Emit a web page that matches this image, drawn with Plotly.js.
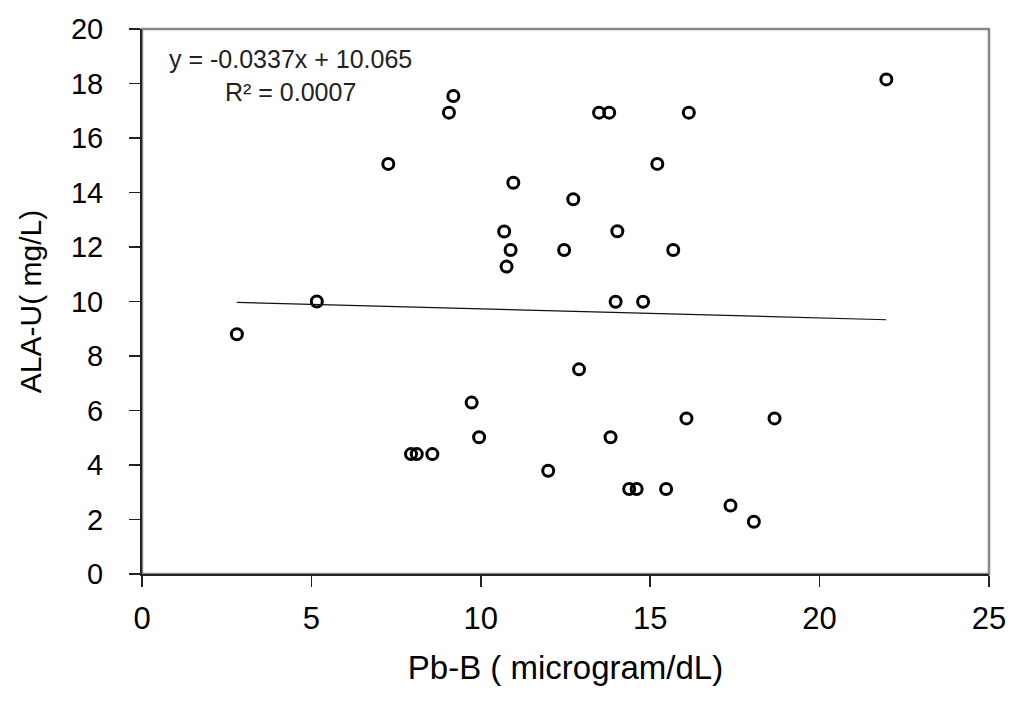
<!DOCTYPE html>
<html>
<head>
<meta charset="utf-8">
<script src="https://cdn.plot.ly/plotly-3.0.1.min.js"></script>
<style>
  html, body { margin: 0; padding: 0; background: #ffffff; }
  #chart { width: 1024px; height: 708px; }
</style>
</head>
<body>
<div id="chart"></div>
<script>
// Pb-B (microgram/dL) values
const pbB = [2.8, 5.16, 7.27, 7.94, 8.11, 8.57, 9.06, 9.19, 9.73, 9.95,
             10.69, 10.76, 10.88, 10.96, 11.99, 12.46, 12.73, 12.9, 13.49, 13.79,
             13.83, 13.98, 14.03, 14.38, 14.6, 14.79, 15.21, 15.47, 15.68, 16.07,
             16.14, 17.37, 18.06, 18.67, 21.97];
// ALA-U (mg/L) values
const alaU = [8.8, 10.0, 15.05, 4.4, 4.4, 4.4, 16.93, 17.54, 6.29, 5.02,
              12.57, 11.28, 11.89, 14.36, 3.79, 11.89, 13.75, 7.51, 16.93, 16.93,
              5.02, 9.99, 12.58, 3.12, 3.12, 9.99, 15.05, 3.12, 11.89, 5.71,
              16.93, 2.51, 1.92, 5.71, 18.15];
// Linear trendline endpoints (as drawn)
const trendX = [2.8, 21.97];
const trendY = [9.97, 9.33];
// Axis ticks
const xTicks = [0, 5, 10, 15, 20, 25];
const yTicks = [0, 2, 4, 6, 8, 10, 12, 14, 16, 18, 20];
const eqText = "y = -0.0337x + 10.065<br>R² = 0.0007";

const FONT = "Liberation Sans, Arial, sans-serif";

const traces = [
  {
    x: pbB, y: alaU, type: "scatter", mode: "markers",
    marker: { symbol: "circle-open", size: 11, color: "#000000", line: { width: 3, color: "#000000" } },
    showlegend: false, hoverinfo: "x+y"
  },
  {
    x: trendX, y: trendY, type: "scatter", mode: "lines",
    line: { color: "#111111", width: 1.2 },
    showlegend: false, hoverinfo: "skip"
  }
];

const layout = {
  width: 1024, height: 708,
  margin: { l: 142, r: 35, t: 29, b: 134 },
  paper_bgcolor: "#ffffff", plot_bgcolor: "#ffffff",
  font: { family: FONT, color: "#000000" },
  showlegend: false,
  xaxis: {
    range: [0, 25], tickvals: xTicks, ticktext: xTicks.map(String),
    showgrid: false, zeroline: false,
    showline: true, linecolor: "#222222", linewidth: 2,
    ticks: "outside", ticklen: 11, tickwidth: 1.5, tickcolor: "#222222",
    ticklabelstandoff: 5,
    tickfont: { family: FONT, size: 31, color: "#000000" },
    title: { text: "Pb-B ( microgram/dL)", font: { family: FONT, size: 33, color: "#000000" }, standoff: 21 }
  },
  yaxis: {
    range: [0, 20], tickvals: yTicks, ticktext: yTicks.map(String),
    showgrid: false, zeroline: false,
    showline: true, linecolor: "#222222", linewidth: 2,
    ticks: "outside", ticklen: 11, tickwidth: 1.5, tickcolor: "#222222",
    ticklabelstandoff: 20,
    tickfont: { family: FONT, size: 29, color: "#000000" },
    title: { text: "ALA-U( mg/L)", font: { family: FONT, size: 30, color: "#000000" }, standoff: 20 }
  },
  shapes: [
    { type: "rect", xref: "paper", yref: "paper", x0: 0, x1: 1, y0: 0, y1: 1,
      line: { color: "#888888", width: 2.5 }, layer: "below" }
  ],
  annotations: [
    { xref: "paper", yref: "paper", x: (290 - 142) / 847, y: (574 - 75) / 545,
      xanchor: "center", yanchor: "middle", showarrow: false, align: "center",
      text: eqText, font: { family: FONT, size: 25, color: "#222222" } }
  ]
};

Plotly.newPlot("chart", traces, layout, { displayModeBar: false, staticPlot: true });
</script>
</body>
</html>
